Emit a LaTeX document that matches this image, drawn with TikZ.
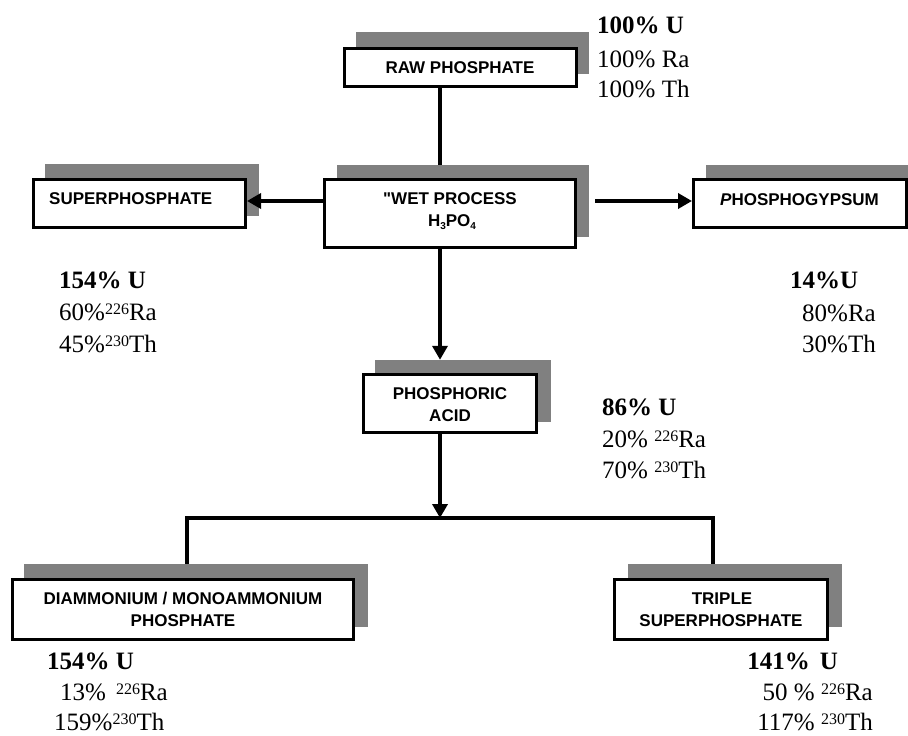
\documentclass[tikz,border=0pt]{standalone}
\usepackage{fontspec}
\setmainfont{Liberation Serif}
\newfontfamily\arialfam{Liberation Sans}
\usetikzlibrary{arrows.meta}
\definecolor{shadowgray}{HTML}{808080}
\newcommand\boxfont{\arialfam\bfseries\fontsize{17}{22}\selectfont}
\newcommand\numfont{\fontsize{25}{31}\selectfont}
\newcommand\iso[1]{\raisebox{6pt}{\fontsize{16}{16}\selectfont #1}}
\newcommand\subd[1]{\raisebox{-3pt}{\fontsize{10}{10}\selectfont #1}}
\tikzset{
  boxn/.style={rectangle, draw=black, line width=3pt, fill=white, inner sep=0pt},
  shadown/.style={rectangle, fill=shadowgray, draw=none, inner sep=0pt},
  conn/.style={line width=4pt, line join=miter},
  arr/.style={conn, -{Triangle[length=14pt,width=15pt]}},
  lbl/.style={font=\boxfont, anchor=base, inner sep=0pt},
  lblw/.style={font=\boxfont, anchor=base west, inner sep=0pt},
  num/.style={font=\numfont, anchor=base west, inner sep=0pt},
  nume/.style={font=\numfont, anchor=base east, inner sep=0pt},
}
\begin{document}
\begin{tikzpicture}[x=1pt,y=-1pt]
\useasboundingbox (0,0) rectangle (908,736);
\fill[white] (0,0) rectangle (908,736);

% shadows
\node[shadown, minimum width=233pt, minimum height=42pt] (rawsh) at (472.5,53) {};
\node[shadown, minimum width=214pt, minimum height=52pt] (supsh) at (152,190) {};
\node[shadown, minimum width=252pt, minimum height=72pt] (wetsh) at (463,201) {};
\node[shadown, minimum width=214pt, minimum height=51pt] (pgsh) at (813,190.5) {};
\node[shadown, minimum width=176pt, minimum height=62pt] (pash) at (463,391) {};
\node[shadown, minimum width=344pt, minimum height=63pt] (dapsh) at (196,595.5) {};
\node[shadown, minimum width=214pt, minimum height=63pt] (tspsh) at (735,595.5) {};

% boxes
\node[boxn, minimum width=232pt, minimum height=38pt] (raw) at (460.5,67.5) {};
\node[boxn, minimum width=212pt, minimum height=48pt] (sup) at (139.5,203.5) {};
\node[boxn, minimum width=251pt, minimum height=68pt] (wet) at (450,213.5) {};
\node[boxn, minimum width=213pt, minimum height=48pt] (pg) at (800,203.5) {};
\node[boxn, minimum width=173pt, minimum height=58pt] (pa) at (450,403.5) {};
\node[boxn, minimum width=341pt, minimum height=60pt] (dap) at (183,609.5) {};
\node[boxn, minimum width=213pt, minimum height=60pt] (tsp) at (721,609.5) {};

% helper coordinates
\coordinate (spine) at (440,0);
\coordinate (ly) at (0,201);
\coordinate (pgstart) at (595,201);
\coordinate (bus) at (440,518);
\coordinate (busL) at (187,518);
\coordinate (busR) at (713,518);

% connectors
\draw[conn] (spine |- raw.south) -- (spine |- wetsh.north);
\draw[arr] (wet.west |- ly) -- (sup.east |- ly);
\draw[arr] (pgstart) -- (pg.west |- pgstart);
\draw[arr] (spine |- wet.south) -- (spine |- pash.north);
\draw[conn] (busL |- dapsh.north) -- (busL) -- (busR) -- (busR |- tspsh.north);
\draw[arr] (spine |- pa.south) -- (bus);

% box labels
\node[lbl] (rawl) at (460,73) {RAW PHOSPHATE};
\node[lblw] (supl) at (49,204) {SUPERPHOSPHATE};
\node[lbl] (wetl1) at (450,204) {"WET PROCESS};
\node[lbl] (wetl2) at (452,226) {H\subd{3}PO\subd{4}};
\node[lblw] (pgl) at (720,205) {{\itshape P}HOSPHOGYPSUM};
\node[lbl] (pal1) at (450,399) {PHOSPHORIC};
\node[lbl] (pal2) at (450,421) {ACID};
\node[lbl] (dapl1) at (183,604) {DIAMMONIUM / MONOAMMONIUM};
\node[lbl] (dapl2) at (183,626) {PHOSPHATE};
\node[lbl] (tspl1) at (722,604) {TRIPLE};
\node[lbl] (tspl2) at (721,626) {SUPERPHOSPHATE};

% numbers: raw phosphate
\node[num] (rawu) at (597,34) {\textbf{100\% U}};
\node[num] (rawra) at (597,67) {100\% Ra};
\node[num] (rawth) at (597,97) {100\% Th};
% superphosphate
\node[num] (supu) at (59,288) {\textbf{154\% U}};
\node[num] (supra) at (59,320) {60\%\iso{226}Ra};
\node[num] (supth) at (59,352) {45\%\iso{230}Th};
% phosphogypsum
\node[num] (pgu) at (790,288) {\textbf{14\%U}};
\node[num] (pgra) at (802,321) {80\%Ra};
\node[num] (pgth) at (802,352) {30\%Th};
% phosphoric acid
\node[num] (pau) at (602,415) {\textbf{86\% U}};
\node[num] (para) at (602,447) {20\% \iso{226}Ra};
\node[num] (path) at (602,478) {70\% \iso{230}Th};
% DAP
\node[num] (dapu) at (47,669) {\textbf{154\% U}};
\node[num] (dapra) at (60,700) {13\%\hspace{10pt}\iso{226}Ra};
\node[num] (dapth) at (54,730) {159\%\iso{230}Th};
% TSP
\node[nume] (tspu) at (838,669) {\textbf{141\%\hspace{10pt}U}};
\node[nume] (tspra) at (873,700) {50 \% \iso{226}Ra};
\node[nume] (tspth) at (873,730) {117\% \iso{230}Th};
\end{tikzpicture}
\end{document}
